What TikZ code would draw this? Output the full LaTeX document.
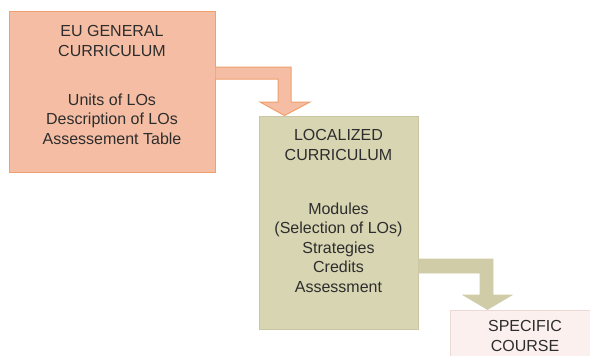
\documentclass[tikz,border=0pt]{standalone}
\usepackage{fontspec}
\setmainfont{Liberation Sans}
\usetikzlibrary{calc}
\definecolor{euFill}{RGB}{245,190,164}
\definecolor{euLine}{RGB}{240,160,108}
\definecolor{locFill}{RGB}{216,213,178}
\definecolor{locLine}{RGB}{202,198,162}
\definecolor{locArrow}{RGB}{208,204,168}
\definecolor{specFill}{RGB}{252,240,239}
\definecolor{specLine}{RGB}{236,216,212}
\definecolor{txt}{RGB}{45,45,45}
\begin{document}
\begin{tikzpicture}[x=1pt,y=-1pt,
  box/.style={rectangle, inner sep=0pt, line width=1pt},
  label/.style={inner sep=0pt, anchor=north, align=center, text=txt,
    font=\fontsize{16}{19.5}\selectfont},
  euarrow/.style={fill=euFill, draw=euLine, line width=1pt, line join=miter},
  locarrow/.style={fill=locArrow, draw=locArrow, line width=0.6pt, line join=miter}]
  \useasboundingbox (0,0) rectangle (590,356);
  \clip (0,0) rectangle (590,356);
  \fill[white] (0,0) rectangle (590,356);

  % the three curriculum levels
  \node[box, fill=euFill, draw=euLine, minimum width=206pt, minimum height=161pt]
    (eu) at (112,91.5) {};
  \node[box, fill=locFill, draw=locLine, minimum width=159pt, minimum height=213pt]
    (loc) at (338.5,222.5) {};
  \node[box, fill=specFill, draw=specLine, minimum width=150pt, minimum height=60pt]
    (spec) at (525,340) {};

  % texts
  \node[label] (euTitle) at ($(eu.north)+(0,15)$) {EU GENERAL\\CURRICULUM};
  \node[label] (euItems) at ($(eu.north)+(0,83)$)
    {Units of LOs\\Description of LOs\\Assessement Table};
  \node[label] (locTitle) at ($(loc.north)+(0,14)$) {LOCALIZED\\CURRICULUM};
  \node[label] (locItems) at ($(loc.north)+(0,87)$)
    {Modules\\(Selection of LOs)\\Strategies\\Credits\\Assessment};
  \node[label] (specTitle) at ($(spec.north)+(0,11)$) {SPECIFIC\\COURSE};

  % block arrows between the levels
  \coordinate (tipA) at ($(loc.north west)+(26,0)$);
  \draw[euarrow] (eu.east |- 0,67) -- (291,67) -- (291,102) -- (310,102)
    -- (tipA) -- (260,102) -- (278,102) -- (278,79) -- (eu.east |- 0,79);
  \coordinate (tipB) at ($(spec.north west)+(38,0)$);
  \draw[locarrow] (loc.east |- 0,259) -- (493,259) -- (493,295) -- (512,295)
    -- (tipB) -- (463,295) -- (480,295) -- (480,273) -- (loc.east |- 0,273);
\end{tikzpicture}
\end{document}
